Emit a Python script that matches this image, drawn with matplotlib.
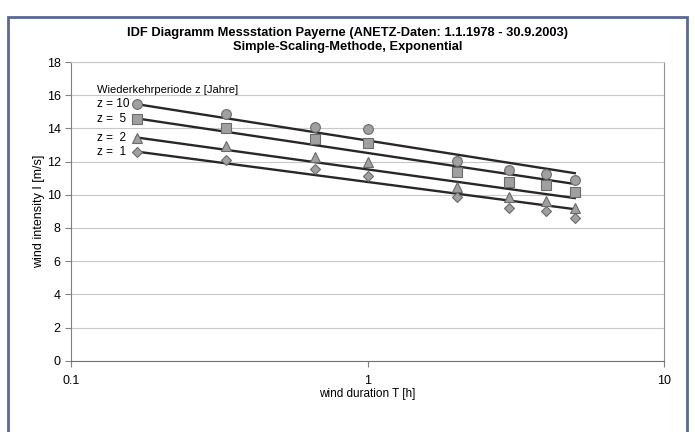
import matplotlib.pyplot as plt
from matplotlib.patches import Rectangle

# wind duration T [h]
durations = [1/6, 1/3, 2/3, 1, 2, 3, 4, 5]

# measured wind intensity [m/s] per return period z
z_labels = ['z = 10', 'z =  5', 'z =  2', 'z =  1']
i_z10 = [15.46, 14.86, 14.08, 13.96, 12.03, 11.49, 11.25, 10.89]
i_z5 = [14.56, 14.02, 13.36, 13.11, 11.37, 10.77, 10.59, 10.17]
i_z2 = [13.40, 12.93, 12.27, 11.97, 10.46, 9.86, 9.62, 9.20]
i_z1 = [12.57, 12.09, 11.55, 11.13, 9.86, 9.20, 9.02, 8.60]

# fitted lines (simple scaling), start and end values
fit_T = [1/6, 5]
fit_z10 = [15.46, 11.30]
fit_z5 = [14.60, 10.65]
fit_z2 = [13.45, 9.80]
fit_z1 = [12.60, 9.13]

series = [i_z10, i_z5, i_z2, i_z1]
fits = [fit_z10, fit_z5, fit_z2, fit_z1]
markers = ['o', 's', '^', 'D']
msizes = [7, 7, 7, 5.5]

plt.rcParams['font.family'] = ['Liberation Sans', 'DejaVu Sans']

fig = plt.figure(figsize=(6.95, 4.32), dpi=100)
fig.patches.append(Rectangle((8/695, -0.05), 679/695, 1 - 17/432 + 0.05,
                             transform=fig.transFigure, fill=False,
                             edgecolor='#5a6896', linewidth=2))

ax = fig.add_axes([71/695, (432-360.7)/432, (664-71)/695, (360.7-62)/432])
ax.set_xscale('log')
ax.set_xlim(0.1, 10)
ax.set_ylim(0, 18)
ax.set_yticks(range(0, 19, 2))
ax.set_xticks([0.1, 1, 10])
ax.set_xticklabels(['0.1', '1', '10'])
ax.minorticks_off()
ax.grid(axis='y', color='#c8c8c8', linewidth=0.8)
ax.set_axisbelow(True)

for f in fits:
    ax.plot(fit_T, f, color='#2a2626', linewidth=1.7, zorder=2)
for s, m, ms in zip(series, markers, msizes):
    ax.plot(durations, s, linestyle='none', marker=m, markersize=ms,
            markerfacecolor='#a0a0a0', markeredgecolor='#6a6a6a',
            markeredgewidth=0.8, zorder=3)

ax.text(0.122, 16.3, 'Wiederkehrperiode z [Jahre]', fontsize=8, va='center')
for lab, s in zip(z_labels, series):
    ax.text(0.122, s[0], lab, fontsize=8.5, va='center')

ax.spines['left'].set_color('#808080')
ax.spines['bottom'].set_color('#7a6a8a')
ax.spines['right'].set_color('#909090')
ax.spines['top'].set_color('#c8c8c8')
ax.tick_params(labelsize=9, color='#808080', length=4, width=0.8)
ax.tick_params(axis='x', pad=6)

ax.set_xlabel('wind duration T [h]', fontsize=8.5, labelpad=1)
ax.set_ylabel('wind intensity I [m/s]', fontsize=9, labelpad=1)

fig.text(0.5, 1 - 33/432, 'IDF Diagramm Messstation Payerne (ANETZ-Daten: 1.1.1978 - 30.9.2003)',
         ha='center', va='center', fontsize=9.3, fontweight='bold')
fig.text(0.5, 1 - 47/432, 'Simple-Scaling-Methode, Exponential',
         ha='center', va='center', fontsize=9.3, fontweight='bold')

fig.savefig('out.png', dpi=100)
